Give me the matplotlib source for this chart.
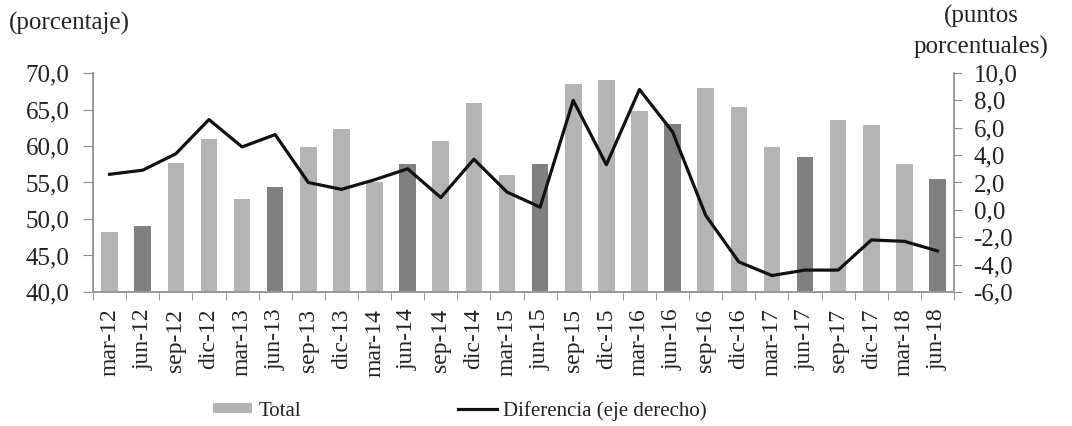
import numpy as np
import matplotlib.pyplot as plt
from matplotlib.ticker import FuncFormatter, FixedLocator

plt.rcParams['font.family'] = ['Liberation Serif', 'DejaVu Serif']

periodos = ['mar-12', 'jun-12', 'sep-12', 'dic-12', 'mar-13', 'jun-13', 'sep-13', 'dic-13',
            'mar-14', 'jun-14', 'sep-14', 'dic-14', 'mar-15', 'jun-15', 'sep-15', 'dic-15',
            'mar-16', 'jun-16', 'sep-16', 'dic-16', 'mar-17', 'jun-17', 'sep-17', 'dic-17',
            'mar-18', 'jun-18']
total = [48.2, 49.0, 57.7, 61.0, 52.7, 54.4, 59.9, 62.3,
         55.0, 57.5, 60.7, 65.9, 56.0, 57.5, 68.5, 69.0,
         64.8, 63.0, 67.9, 65.4, 59.9, 58.5, 63.5, 62.9,
         57.5, 55.5]
diferencia = [2.6, 2.9, 4.1, 6.6, 4.6, 5.5, 2.0, 1.5,
              2.2, 3.0, 0.9, 3.7, 1.3, 0.2, 8.0, 3.3,
              8.8, 5.7, -0.4, -3.8, -4.8, -4.4, -4.4, -2.2,
              -2.3, -3.0]

gris_claro = '#b4b4b4'
gris_oscuro = '#808080'
txt = '#222222'
# los trimestres de junio van en gris oscuro
colores = [gris_oscuro if p.startswith('jun') else gris_claro for p in periodos]

x = np.arange(len(periodos))
coma = FuncFormatter(lambda v, p: '{0:.1f}'.format(v).replace('.', ','))

fig = plt.figure(figsize=(10.72, 4.26), dpi=100)
ax = fig.add_axes([0.0868, 0.3146, 0.8032, 0.514])
bars = ax.bar(x, total, 0.5, color=colores, label='Total', zorder=2)
ax.set_ylim(40, 70)
ax.set_xlim(-0.5, len(periodos) - 0.5)
ax.set_yticks(np.arange(40, 71, 5))
ax.yaxis.set_major_formatter(coma)

ax2 = ax.twinx()
linea, = ax2.plot(x, diferencia, color='#111111', lw=2.3, label='Diferencia (eje derecho)', zorder=3)
ax2.set_ylim(-6, 10)
ax2.set_yticks(np.arange(-6, 10.1, 2))
ax2.yaxis.set_major_formatter(coma)

ax.set_xticks(x)
ax.set_xticklabels(periodos, rotation=90, fontsize=17, color=txt)
ax.xaxis.set_minor_locator(FixedLocator(np.arange(-0.5, len(periodos), 1)))
ax.tick_params(axis='x', which='major', length=0, pad=12)
ax.tick_params(axis='x', which='minor', length=6, color='#888888', direction='out')
ax.tick_params(axis='y', length=7, color='#888888', labelsize=18, labelcolor=txt, pad=10)
ax2.tick_params(axis='y', length=6, color='#888888', labelsize=18, labelcolor=txt, pad=8)

for a in (ax, ax2):
    a.spines['top'].set_visible(False)
    for s in ('left', 'right', 'bottom'):
        a.spines[s].set_color('#999999')
        a.spines[s].set_linewidth(1.2)

fig.text(0.008, 0.945, '(porcentaje)', fontsize=18, color=txt, ha='left', va='center')
fig.text(0.915, 0.962, '(puntos', fontsize=18, color=txt, ha='center', va='center')
fig.text(0.915, 0.888, 'porcentuales)', fontsize=18, color=txt, ha='center', va='center')

fig.legend(handles=[bars, linea], loc='center', bbox_to_anchor=(0.429, 0.036), ncol=2, frameon=False,
           fontsize=15, handlelength=1.9, handleheight=0.4, handletextpad=0.3, columnspacing=7.5,
           labelcolor=txt)

plt.savefig('out.png', dpi=100)
